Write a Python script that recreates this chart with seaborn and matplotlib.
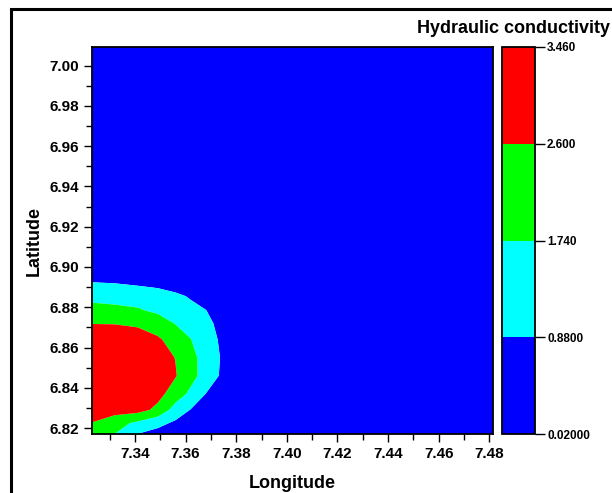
import numpy as np
import matplotlib
matplotlib.use("Agg")
import matplotlib.pyplot as plt
from matplotlib.colors import ListedColormap, BoundaryNorm
from matplotlib.ticker import MultipleLocator, FormatStrFormatter
from matplotlib.patches import Rectangle
import seaborn as sns

# grid
lon = [7.3229, 7.332, 7.341, 7.349, 7.356, 7.362, 7.368, 7.375, 7.390, 7.4816]
lat = [6.8169, 6.8225, 6.829, 6.837, 6.846, 6.855, 6.864, 6.872, 6.8785, 6.8855, 6.8925, 6.905, 7.0094]

k_r0 = [2.45, 1.72, 0.85, 0.60, 0.45, 0.35, 0.25, 0.20, 0.10, 0.03]
k_r1 = [2.58, 2.08, 1.57, 1.11, 0.75, 0.55, 0.40, 0.30, 0.12, 0.03]
k_r2 = [3.00, 2.95, 2.90, 2.40, 1.35, 0.85, 0.60, 0.45, 0.15, 0.03]
k_r3 = [3.30, 3.25, 3.10, 2.85, 2.22, 1.54, 0.87, 0.60, 0.20, 0.03]
k_r4 = [3.45, 3.42, 3.30, 3.05, 2.65, 2.05, 1.37, 0.70, 0.25, 0.03]
k_r5 = [3.40, 3.38, 3.25, 2.95, 2.58, 2.00, 1.40, 0.75, 0.25, 0.03]
k_r6 = [3.10, 3.05, 2.90, 2.72, 2.23, 1.76, 1.24, 0.70, 0.25, 0.03]
k_r7 = [2.58, 2.57, 2.50, 2.15, 1.70, 1.38, 1.05, 0.65, 0.20, 0.03]
k_r8 = [1.95, 1.90, 1.82, 1.58, 1.33, 1.11, 0.89, 0.55, 0.15, 0.03]
k_r9 = [1.56, 1.50, 1.40, 1.25, 1.05, 0.80, 0.60, 0.40, 0.12, 0.03]
k_r10 = [0.87, 0.82, 0.70, 0.60, 0.40, 0.35, 0.28, 0.20, 0.08, 0.03]
k_r11 = [0.30, 0.28, 0.25, 0.22, 0.18, 0.15, 0.12, 0.10, 0.05, 0.03]
k_r12 = [0.03, 0.03, 0.03, 0.03, 0.03, 0.03, 0.03, 0.03, 0.03, 0.03]

levels = [0.02, 0.88, 1.74, 2.60, 3.46]
level_labels = ["0.02000", "0.8800", "1.740", "2.600", "3.460"]
colors = ["#0000ff", "#00ffff", "#00ff00", "#ff0000"]

K = np.array([k_r0, k_r1, k_r2, k_r3, k_r4, k_r5, k_r6, k_r7, k_r8,
              k_r9, k_r10, k_r11, k_r12])
LON, LAT = np.meshgrid(lon, lat)

sns.set_style("ticks")
plt.rcParams['font.family'] = ['Liberation Sans', 'DejaVu Sans']
plt.rcParams['font.weight'] = 'bold'
for key in ['text.color', 'axes.labelcolor', 'xtick.color', 'ytick.color',
            'xtick.labelcolor', 'ytick.labelcolor']:
    plt.rcParams[key] = 'black'

fig = plt.figure(figsize=(6.12, 4.93), dpi=100)
W, H = 612, 493
ax = fig.add_axes([91.7/W, 1-434.3/H, (493.3-91.7)/W, (434.3-46.7)/H])
cax = fig.add_axes([502/W, 1-434.3/H, 32.5/W, (434.3-46.7)/H])

cmap = ListedColormap(colors)
norm = BoundaryNorm(levels, cmap.N)
cf = ax.contourf(LON, LAT, K, levels=levels, cmap=cmap, norm=norm, antialiased=True)

ax.set_xlim(lon[0], lon[-1])
ax.set_ylim(lat[0], lat[-1])
ax.xaxis.set_major_locator(MultipleLocator(0.02))
ax.xaxis.set_minor_locator(MultipleLocator(0.01))
ax.yaxis.set_major_locator(MultipleLocator(0.02))
ax.yaxis.set_minor_locator(MultipleLocator(0.01))
ax.xaxis.set_major_formatter(FormatStrFormatter("%.2f"))
ax.yaxis.set_major_formatter(FormatStrFormatter("%.2f"))
ax.tick_params(which="major", length=6, width=1, labelsize=11, pad=3)
ax.tick_params(which="minor", length=4, width=1)
for lab in ax.get_xticklabels() + ax.get_yticklabels():
    lab.set_fontweight("bold")
for s in ax.spines.values():
    s.set_linewidth(1.3)
    s.set_color("black")
ax.set_xlabel("Longitude", fontsize=13, fontweight="bold", labelpad=10)
ax.set_ylabel("Latitude", fontsize=13, fontweight="bold", labelpad=5)

cb = fig.colorbar(cf, cax=cax, ticks=levels)
cb.ax.set_yticklabels(level_labels)
cb.ax.tick_params(length=7, width=1, labelsize=8.5, pad=2)
for lab in cb.ax.get_yticklabels():
    lab.set_fontweight("bold")
cb.outline.set_linewidth(1.3)
cb.outline.set_edgecolor("black")

fig.text(610/W, 1-33/H, "Hydraulic conductivity", ha="right", va="baseline",
         fontsize=13, fontweight="bold")

fig.patches.append(Rectangle((10.5/W, -0.1), 1.2, 1-9.5/H+0.1, transform=fig.transFigure,
                             fill=False, edgecolor="black", linewidth=2.2, clip_on=False))

fig.savefig("out.png", dpi=100)
